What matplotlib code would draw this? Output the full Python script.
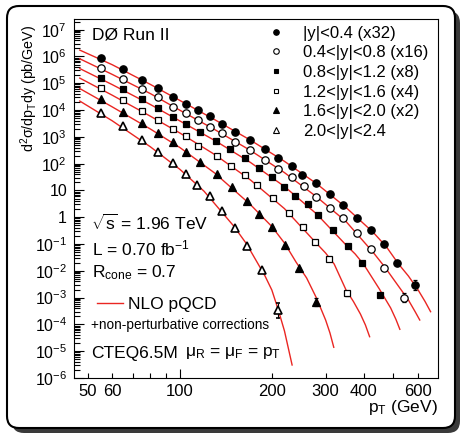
import matplotlib
matplotlib.use("Agg")
import matplotlib.pyplot as plt
import numpy as np
from matplotlib.lines import Line2D
from matplotlib.patches import FancyBboxPatch
from matplotlib.transforms import IdentityTransform
from matplotlib.ticker import FixedLocator, FixedFormatter, LogLocator, NullFormatter

plt.rcParams['font.family'] = ['Liberation Sans', 'DejaVu Sans']
plt.rcParams['mathtext.fontset'] = 'custom'
plt.rcParams['mathtext.rm'] = 'Liberation Sans'
plt.rcParams['mathtext.it'] = 'Liberation Sans'
plt.rcParams['mathtext.sf'] = 'Liberation Sans'
plt.rcParams['mathtext.bf'] = 'Liberation Sans:bold'
plt.rcParams['mathtext.default'] = 'regular'

# rapidity bins (data already scaled as in the legend)
labels = ["|y|<0.4 (x32)", "0.4<|y|<0.8 (x16)", "0.8<|y|<1.2 (x8)",
          "1.2<|y|<1.6 (x4)", "1.6<|y|<2.0 (x2)", "2.0<|y|<2.4"]

pt_y1 = [55, 65, 75, 85, 95, 105, 115, 125, 137, 152, 170, 190, 210, 232, 252, 280, 310, 342, 380, 422, 467, 515, 587]
xs_y1 = [8.5e5, 3.3e5, 1.37e5, 6.45e4, 3.19e4, 1.67e4, 1.0e4, 5.82e3, 3.05e3, 1.55e3, 760, 345, 169, 83.5,
         39.2, 18.4, 7.15, 2.85, 0.958, 0.333, 0.100, 0.0191, 2.95e-3]

pt_y2 = [55, 65, 75, 85, 95, 105, 115, 125, 137, 152, 170, 190, 210, 232, 254, 279, 310, 342, 380, 422, 467, 542]
xs_y2 = [3.69e5, 1.47e5, 6.24e4, 3.00e4, 1.35e4, 7.53e3, 4.24e3, 2.42e3, 1.35e3, 656, 314, 142, 64.0, 31.6,
         14.6, 5.82, 2.26, 0.910, 0.251, 0.0634, 0.0124, 1.01e-3]

pt_y3 = [55, 65, 75, 85, 95, 105, 116, 131, 146, 163, 181, 200, 220, 239, 262, 284, 317, 354, 394, 451]
xs_y3 = [1.60e5, 5.92e4, 2.51e4, 1.16e4, 5.62e3, 2.93e3, 1.55e3, 697, 342, 158, 70.3, 32.5, 13.7, 6.35,
         3.11, 1.21, 0.348, 0.0842, 0.0195, 1.25e-3]

pt_y4 = [55, 65, 75, 85, 95, 105, 115, 132, 147, 163, 179, 202, 227, 253, 277, 307, 352]
xs_y4 = [6.79e4, 2.30e4, 9.18e3, 4.24e3, 1.90e3, 1.07e3, 474, 197, 83.5, 37.5, 15.9, 5.34, 1.50, 0.442,
         0.122, 0.0276, 1.45e-3]

pt_y5 = [55, 65, 75, 85, 95, 105, 116, 132, 148, 166, 182, 200, 221, 246, 280]
xs_y5 = [2.57e4, 8.21e3, 3.27e3, 1.35e3, 624, 278, 115, 40.2, 13.4, 3.95, 1.29, 0.442, 0.0918, 0.0133, 7.03e-4]

pt_y6 = [55, 65, 75, 85, 95, 105, 114, 125, 137, 151, 166, 185, 210]
xs_y6 = [7.53e3, 2.53e3, 760, 278, 103, 39.9, 15.9, 6.18, 1.78, 0.413, 0.0842, 0.0112, 3.45e-4]

# error on the last point of each bin, in decades
last_err = [0.18, 0.15, 0.0, 0.10, 0.15, 0.28]

# NLO pQCD curves
nlo_pt_y1 = [47, 60, 80, 100, 130, 170, 220, 280, 350, 430, 475, 520, 560, 600, 635, 662]
nlo_y1 = [1.73e6, 4.94e5, 9.10e4, 2.28e4, 4.38e3, 760, 122, 18.1, 2.30, 0.269, 0.0773, 0.0179, 6.4e-3,
          2.09e-3, 7.15e-4, 2.98e-4]
nlo_pt_y2 = [47, 60, 80, 100, 130, 170, 220, 280, 350, 430, 470, 500, 560, 590, 610]
nlo_y2 = [8.21e5, 2.15e5, 4.13e4, 9.83e3, 1.87e3, 314, 46.2, 5.82, 0.691, 0.0478, 0.0133, 4.94e-3, 8.14e-4,
          2.9e-4, 1.46e-4]
nlo_pt_y3 = [47, 60, 80, 100, 130, 170, 220, 280, 350, 375, 400, 450, 490, 510, 525]
nlo_y3 = [3.54e5, 8.94e4, 1.62e4, 3.92e3, 734, 112, 14.0, 1.34, 0.0918, 0.0423, 0.0172, 2.09e-3, 4.09e-4,
          1.52e-4, 6.57e-5]
nlo_pt_y4 = [47, 60, 80, 100, 130, 170, 220, 280, 300, 320, 350, 370, 390, 405, 418]
nlo_y4 = [1.56e5, 3.60e4, 5.92e3, 1.39e3, 219, 24.9, 2.09, 0.106, 0.0461, 0.0179, 1.92e-3, 7.15e-4, 2.44e-4,
          9.5e-5, 3.48e-5]
nlo_pt_y5 = [47, 60, 80, 100, 130, 170, 200, 220, 240, 260, 280, 300, 310, 319]
nlo_y5 = [6.35e4, 1.32e4, 1.97e3, 399, 44.6, 3.00, 0.450, 0.109, 0.0213, 5.39e-3, 9.66e-4, 1.46e-4,
          4.78e-5, 1.40e-5]
nlo_pt_y6 = [47, 60, 80, 100, 120, 150, 165, 180, 190, 200, 210, 220, 233]
nlo_y6 = [2.17e4, 3.99e3, 427, 61.3, 9.33, 0.470, 0.104, 0.0187, 6.4e-3, 1.92e-3, 3.45e-4, 5.67e-5, 3.06e-6]

xtick_major = [100]
xtick_major_labels = ["100"]
xtick_minor = [50, 60, 70, 80, 90, 200, 300, 400, 500, 600]
xtick_minor_labels = ["50", "60", "", "", "", "200", "300", "400", "", "600"]
ytick_vals = [1e-6, 1e-5, 1e-4, 1e-3, 1e-2, 1e-1, 1, 10, 1e2, 1e3, 1e4, 1e5, 1e6, 1e7]
ytick_labels = ["$10^{-6}$", "$10^{-5}$", "$10^{-4}$", "$10^{-3}$", "$10^{-2}$", "$10^{-1}$", "1", "10",
                "$10^{2}$", "$10^{3}$", "$10^{4}$", "$10^{5}$", "$10^{6}$", "$10^{7}$"]

data = [(pt_y1, xs_y1, nlo_pt_y1, nlo_y1), (pt_y2, xs_y2, nlo_pt_y2, nlo_y2),
        (pt_y3, xs_y3, nlo_pt_y3, nlo_y3), (pt_y4, xs_y4, nlo_pt_y4, nlo_y4),
        (pt_y5, xs_y5, nlo_pt_y5, nlo_y5), (pt_y6, xs_y6, nlo_pt_y6, nlo_y6)]
styles = [('o', 'k', 5.3, 0.9), ('o', 'white', 5.3, 0.9), ('s', 'k', 4.8, 0.9),
          ('s', 'white', 4.8, 0.9), ('^', 'k', 5.6, 0.9), ('^', 'white', 5.6, 1.2)]
red = '#ea2622'

W, H = 463, 436
fig = plt.figure(figsize=(W / 100, H / 100), dpi=100)
fig.patch.set_facecolor('white')

# rounded frame with drop shadow
shadow = FancyBboxPatch((12, H - 433), 448, 422, boxstyle="round,pad=0,rounding_size=12",
                        transform=IdentityTransform(), facecolor='#3a3a3a', edgecolor='none', zorder=-3)
frame = FancyBboxPatch((7, H - 428), 448, 422, boxstyle="round,pad=0,rounding_size=12",
                       transform=IdentityTransform(), facecolor='white', edgecolor='black',
                       linewidth=1.5, zorder=-2)
fig.add_artist(shadow)
fig.add_artist(frame)

ax = fig.add_axes([74 / W, 1 - 378 / H, 364 / W, 358.5 / H])
ax.set_xscale('log')
ax.set_yscale('log')

handles = []
for (pt, xs, npt, ny), (mk, fc, ms, mew), d in zip(data, styles, last_err):
    ax.plot(npt, ny, color=red, lw=1.0, zorder=2)
    xs = np.array(xs)
    lo = np.zeros(len(xs))
    hi = np.zeros(len(xs))
    lo[-1] = xs[-1] * (1 - 10 ** -d)
    hi[-1] = xs[-1] * (10 ** d - 1)
    ax.errorbar(pt, xs, yerr=[lo, hi], fmt=mk, mfc=fc, mec='k', mew=mew, ms=ms,
                ecolor='k', elinewidth=0.8, capsize=1.5, capthick=0.8, zorder=3)
    handles.append(Line2D([], [], ls='none', marker=mk, mfc=fc, mec='k', mew=0.8, ms=ms))

ax.set_xlim(45, 700)
ax.set_ylim(1e-6, 2.4e7)

ax.xaxis.set_major_locator(FixedLocator(xtick_major))
ax.xaxis.set_major_formatter(FixedFormatter(xtick_major_labels))
ax.xaxis.set_minor_locator(FixedLocator(xtick_minor))
ax.xaxis.set_minor_formatter(FixedFormatter(xtick_minor_labels))
ax.yaxis.set_major_locator(FixedLocator(ytick_vals))
ax.yaxis.set_major_formatter(FixedFormatter(ytick_labels))
ax.yaxis.set_minor_locator(LogLocator(base=10, subs=np.arange(2, 10), numticks=60))
ax.yaxis.set_minor_formatter(NullFormatter())

ax.tick_params(axis='x', which='both', direction='in', top=False, labelsize=12, pad=4, width=0.8)
ax.tick_params(axis='x', which='major', length=6.5)
ax.tick_params(axis='x', which='minor', length=3.6)
ax.tick_params(axis='y', which='both', direction='in', right=False, labelsize=11.5, pad=5, width=0.8)
ax.tick_params(axis='y', which='major', length=7.2)
ax.tick_params(axis='y', which='minor', length=4.3)
for sp in ax.spines.values():
    sp.set_linewidth(0.8)

ax.set_xlabel("p$_{T}$ (GeV)", fontsize=12.5)
ax.xaxis.set_label_coords(1.0, -0.083)
ax.xaxis.label.set_ha('right')
ax.xaxis.label.set_va('center')
ax.set_ylabel(r"d$^{2}\sigma$/dp$_{T}$dy (pb/GeV)", fontsize=10.3)
ax.yaxis.set_label_coords(-0.093, 0.985)
ax.yaxis.label.set_ha('right')
ax.yaxis.label.set_rotation_mode('anchor')

leg = ax.legend(handles, labels, loc='upper left', bbox_to_anchor=(0.533, 0.983), frameon=False,
                fontsize=12, labelspacing=0.28, handlelength=1.0, handletextpad=1.1,
                markerscale=0.75, borderpad=0, borderaxespad=0)
ax.add_artist(leg)
nlo_handle = Line2D([], [], color=red, lw=1.0)
ax.legend([nlo_handle], ["NLO pQCD"], loc='center left', bbox_to_anchor=(0.063, 0.206),
          frameon=False, fontsize=12.5, handlelength=1.5, handletextpad=0.3,
          borderpad=0, borderaxespad=0)

tkw = dict(transform=ax.transAxes, va='center', ha='left')
ax.text(0.0495, 0.957, "DØ Run II", fontsize=12.5, **tkw)
ax.text(0.046, 0.432, r"$\sqrt{s}$ = 1.96 TeV", fontsize=12.5, **tkw)
ax.text(0.049, 0.3626, "L = 0.70 fb$^{-1}$", fontsize=12.5, **tkw)
ax.text(0.049, 0.293, "R$_{cone}$ = 0.7", fontsize=12.5, **tkw)
ax.text(0.0467, 0.148, "+non-perturbative corrections", fontsize=9.8, **tkw)
ax.text(0.0467, 0.0697, "CTEQ6.5M", fontsize=12.5, **tkw)
ax.text(0.305, 0.0697, r"$\mu_{R}$ = $\mu_{F}$ = p$_{T}$", fontsize=12.5, **tkw)

fig.savefig("out.png", dpi=100)
